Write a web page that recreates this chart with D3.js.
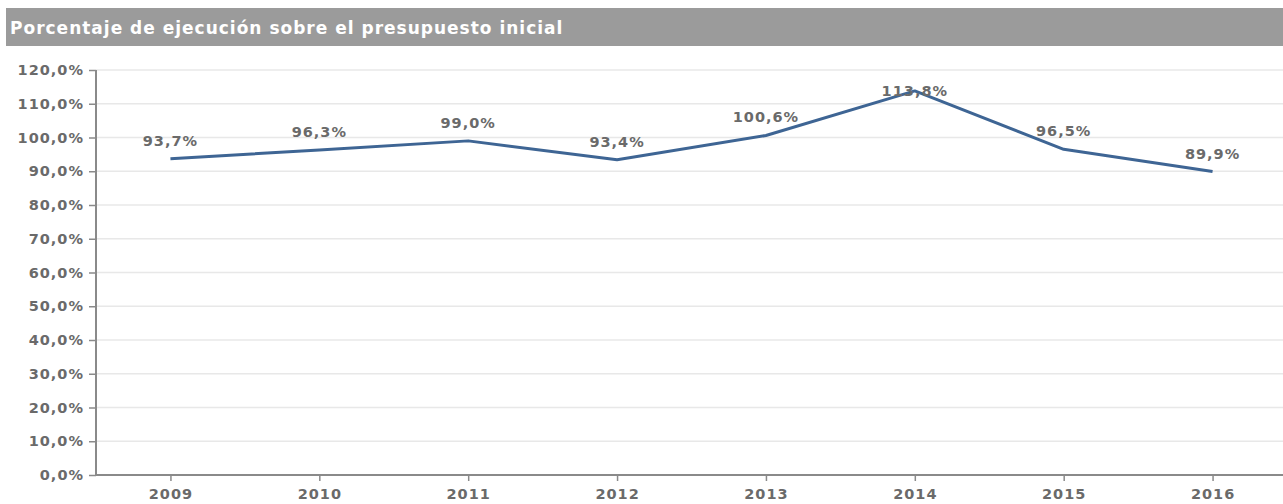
<!DOCTYPE html>
<html><head><meta charset="utf-8">
<script src="https://cdn.jsdelivr.net/npm/d3@7"></script>
<style>
body{margin:0;background:#fff;}
svg{display:block;}
text{font-family:"DejaVu Sans",sans-serif;font-weight:bold;}
</style></head><body>
<svg id="c" width="1283" height="504"></svg>
<script>
const title = "Porcentaje de ejecución sobre el presupuesto inicial";
const years = ["2009","2010","2011","2012","2013","2014","2015","2016"];
const values = [93.7, 96.3, 99.0, 93.4, 100.6, 113.8, 96.5, 89.9];
const yTicks = [0,10,20,30,40,50,60,70,80,90,100,110,120];

const svg = d3.select("#c");
const fmt = v => d3.format(".1f")(v).replace(".", ",") + "%";

svg.append("rect").attr("x",6).attr("y",8).attr("width",1277).attr("height",38).attr("fill","#9b9b9b");
svg.append("text").attr("x",10).attr("y",34).attr("fill","#fff").attr("font-size",17)
  .attr("letter-spacing",1).text(title);

const x = d3.scalePoint().domain(years).range([96,1287]).padding(0.5);
const y = d3.scaleLinear().domain([0,120]).range([475,70]);

const g = svg.append("g");
g.selectAll("line.grid").data(yTicks.slice(1)).join("line").attr("class","grid")
  .attr("x1",96).attr("x2",1283).attr("y1",d=>y(d)).attr("y2",d=>y(d))
  .attr("stroke","#e8e8e8").attr("stroke-width",1.5);

const yAxis = svg.append("g").attr("transform","translate(96,0)")
  .call(d3.axisLeft(y).tickValues(yTicks).tickFormat(fmt).tickSize(7).tickPadding(5));
const xAxis = svg.append("g").attr("transform","translate(0,475)")
  .call(d3.axisBottom(x).tickSize(6).tickPadding(8));
[yAxis,xAxis].forEach(a=>{
  a.select(".domain").attr("stroke","#8a8a8a").attr("stroke-width",2);
  a.selectAll(".tick line").attr("stroke","#8a8a8a").attr("stroke-width",1.5);
  a.selectAll("text").attr("fill","#6a6a6a").attr("font-size",14.5).attr("letter-spacing",1)
   .attr("font-family","DejaVu Sans").attr("font-weight","bold");
});
xAxis.select(".domain").attr("d","M96,0H1283");
yAxis.select(".domain").attr("d","M0,70V475");

const line = d3.line().x((d,i)=>x(years[i])).y(d=>y(d));
svg.append("path").datum(values).attr("d",line).attr("fill","none")
  .attr("stroke","#3e6594").attr("stroke-width",3).attr("stroke-linejoin","round");

svg.selectAll("text.lbl").data(values).join("text").attr("class","lbl")
  .attr("x",(d,i)=>x(years[i])).attr("y",d=> y(d)-18 < 80 ? y(d)+5 : y(d)-13)
  .attr("text-anchor","middle").attr("fill","#6a6a6a").attr("font-size",14.5).attr("letter-spacing",1)
  .text(fmt);
</script></body></html>
